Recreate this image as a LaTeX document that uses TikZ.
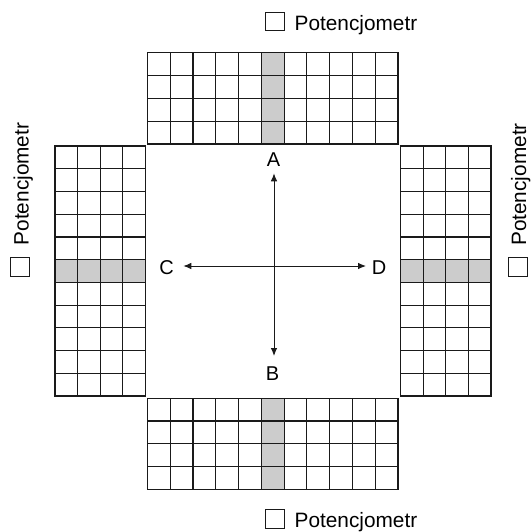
\documentclass[tikz,border=0pt]{standalone}
\usepackage{fontspec}
\setmainfont{Liberation Sans}
\usetikzlibrary{arrows.meta}
\definecolor{hl}{HTML}{CCCCCC}
\definecolor{ink}{HTML}{1A1A1A}
\newcommand\cellgrid[6]{%
  \foreach \i in {0,...,#3}{\draw[gridline] ({#1+\i*#5},#2) -- ({#1+\i*#5},{#2+#4*#6});}
  \foreach \j in {0,...,#4}{\draw[gridline] (#1,{#2+\j*#6}) -- ({#1+#3*#5},{#2+\j*#6});}
}
\tikzset{
  gridline/.style={line width=1.2pt, draw=ink, line cap=rect},
  hlcell/.style={fill=hl, draw=none},
  potbox/.style={draw=ink, line width=0.8pt, minimum width=19pt, minimum height=18.5pt, inner sep=0pt},
  lbl/.style={font=\fontsize{20.8}{24}\selectfont, inner sep=0pt},
  dirlbl/.style={font=\fontsize{20}{24}\selectfont, inner sep=0pt, anchor=center},
  axis/.style={line width=0.9pt, draw=ink, -{Latex[length=8pt,width=6.5pt]}},
}
\begin{document}
\begin{tikzpicture}[x=1pt,y=-1pt]
\useasboundingbox (0,0) rectangle (531,532);
% highlighted strips
\fill[hlcell] (261.35,52.7) rectangle (284.1,144);
\fill[hlcell] (261.35,398.3) rectangle (284.1,489.3);
\fill[hlcell] (55,259.6) rectangle (145.3,282.4);
\fill[hlcell] (400.7,259.6) rectangle (491,282.4);
% grids
\cellgrid{147.5}{52.7}{11}{4}{22.77}{22.83}
\cellgrid{147.5}{398.3}{11}{4}{22.77}{22.75}
\cellgrid{55}{146}{4}{11}{22.575}{22.73}
\cellgrid{400.7}{146}{4}{11}{22.575}{22.73}
% labels
\node[potbox] (tbox) at (274.5,21.5) {};
\node[lbl, anchor=base west] (ttxt) at (294.5,30.5) {Potencjometr};
\node[potbox] (bbox) at (274.5,519) {};
\node[lbl, anchor=base west] (btxt) at (294.5,527.5) {Potencjometr};
\node[potbox, rotate=90] (lbox) at (20,266.5) {};
\node[lbl, rotate=90, anchor=base west] (ltxt) at (28.5,245.5) {Potencjometr};
\node[potbox, rotate=90] (rbox) at (518,267) {};
\node[lbl, rotate=90, anchor=base west] (rtxt) at (526,246) {Potencjometr};
% axes
\coordinate (O) at (274,266);
\coordinate (Atip) at (274,173.3);
\coordinate (Btip) at (274,356);
\coordinate (Ctip) at (183.3,266);
\coordinate (Dtip) at (366,266);
\node[dirlbl] (A) at (273.5,159.5) {A};
\node[dirlbl] (B) at (272.5,374) {B};
\node[dirlbl] (C) at (166.5,268) {C};
\node[dirlbl] (D) at (379,268) {D};
\draw[axis] (O) -- (Atip);
\draw[axis] (O) -- (Btip);
\draw[axis] (O) -- (Ctip);
\draw[axis] (O) -- (Dtip);
\end{tikzpicture}
\end{document}
